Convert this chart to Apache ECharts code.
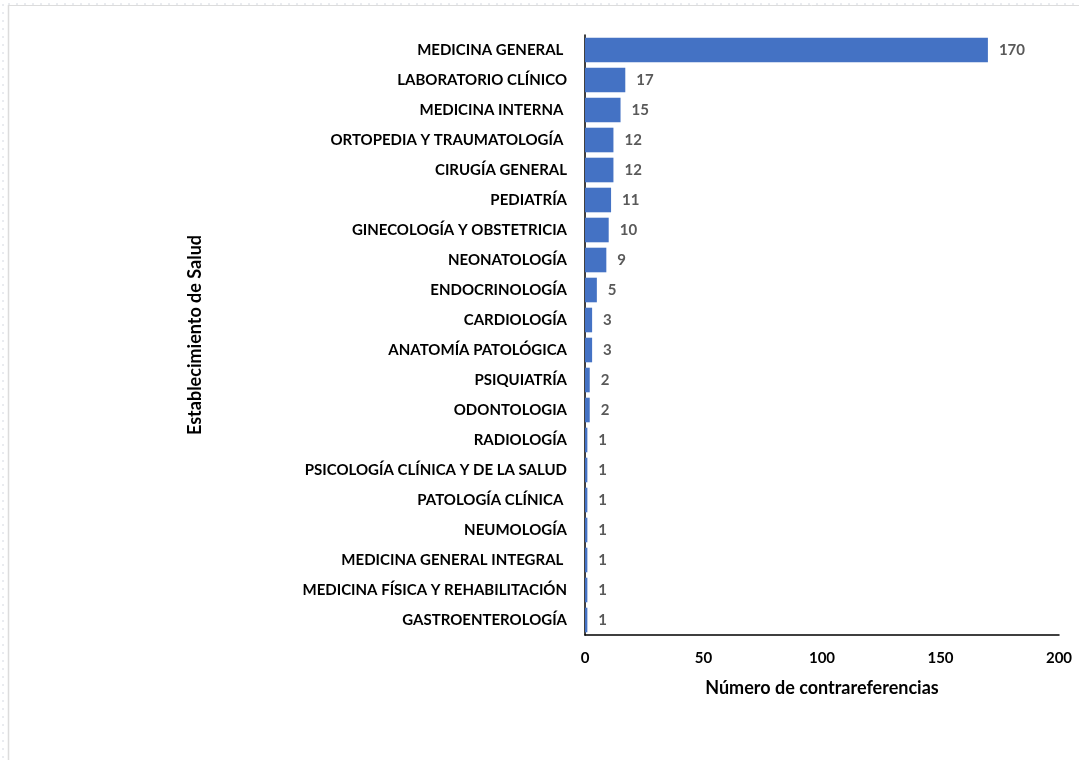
<!DOCTYPE html>
<html><head><meta charset="utf-8">
<script src="https://cdn.jsdelivr.net/npm/echarts@6/dist/echarts.min.js"></script>
<style>html,body{margin:0;padding:0;background:#fff}#c{width:1079px;height:760px}</style>
</head><body><div id="c"></div>
<script>
const categories = ["MEDICINA GENERAL ","LABORATORIO CLÍNICO","MEDICINA INTERNA ","ORTOPEDIA Y TRAUMATOLOGÍA ","CIRUGÍA GENERAL","PEDIATRÍA","GINECOLOGÍA Y OBSTETRICIA","NEONATOLOGÍA","ENDOCRINOLOGÍA","CARDIOLOGÍA","ANATOMÍA PATOLÓGICA","PSIQUIATRÍA","ODONTOLOGIA","RADIOLOGÍA","PSICOLOGÍA CLÍNICA Y DE LA SALUD","PATOLOGÍA CLÍNICA ","NEUMOLOGÍA","MEDICINA GENERAL INTEGRAL ","MEDICINA FÍSICA Y REHABILITACIÓN","GASTROENTEROLOGÍA"];
const values = [170,17,15,12,12,11,10,9,5,3,3,2,2,1,1,1,1,1,1,1];
const xTicks = [0,50,100,150,200];
const xTitle = "Número de contrareferencias";
const yTitle = "Establecimiento de Salud";

const font = "Lato, 'Open Sans', sans-serif";
const chart = echarts.init(document.getElementById('c'), null, {renderer:'canvas'});
chart.setOption({
  animation:false,
  backgroundColor:'#ffffff',
  graphic:[
    {type:'line', shape:{x1:8,y1:4,x2:1079,y2:4}, style:{stroke:'#d4d8e0', lineWidth:1, lineDash:[2,6]}},
    {type:'line', shape:{x1:9,y1:5.5,x2:1079,y2:5.5}, style:{stroke:'#dcdcdc', lineWidth:1}},
    {type:'line', shape:{x1:3,y1:4,x2:3,y2:760}, style:{stroke:'#d4d8e0', lineWidth:1, lineDash:[2,6]}},
    {type:'line', shape:{x1:8.5,y1:5,x2:8.5,y2:760}, style:{stroke:'#dcdcdc', lineWidth:1.5}}
  ],
  grid:{left:585, right:20, top:35, bottom:125, containLabel:false},
  xAxis:{
    type:'value', min:xTicks[0], max:xTicks[xTicks.length-1], interval:xTicks[1]-xTicks[0],
    splitLine:{show:false},
    axisLine:{show:true, lineStyle:{color:'#000', width:1.5}},
    axisTick:{show:false},
    axisLabel:{color:'#000', fontFamily:font, fontWeight:'bold', fontSize:15, margin:16},
    name:xTitle, nameLocation:'middle', nameGap:44,
    nameTextStyle:{color:'#000', fontFamily:font, fontWeight:'bold', fontSize:18}
  },
  yAxis:{
    type:'category', data:categories, inverse:true,
    axisLine:{show:true, lineStyle:{color:'#000', width:1.5}},
    axisTick:{show:false},
    axisLabel:{color:'#000', fontFamily:font, fontWeight:'bold', fontSize:15, margin:18},
    name:yTitle, nameLocation:'middle', nameGap:381, nameRotate:90,
    nameTextStyle:{color:'#000', fontFamily:font, fontWeight:'bold', fontSize:18}
  },
  series:[{
    type:'bar', data:values, barCategoryGap:'18%',
    itemStyle:{color:'#4472c4'},
    label:{show:true, position:'right', distance:11, color:'#595959', fontFamily:font, fontWeight:'bold', fontSize:15}
  }]
});
</script></body></html>
